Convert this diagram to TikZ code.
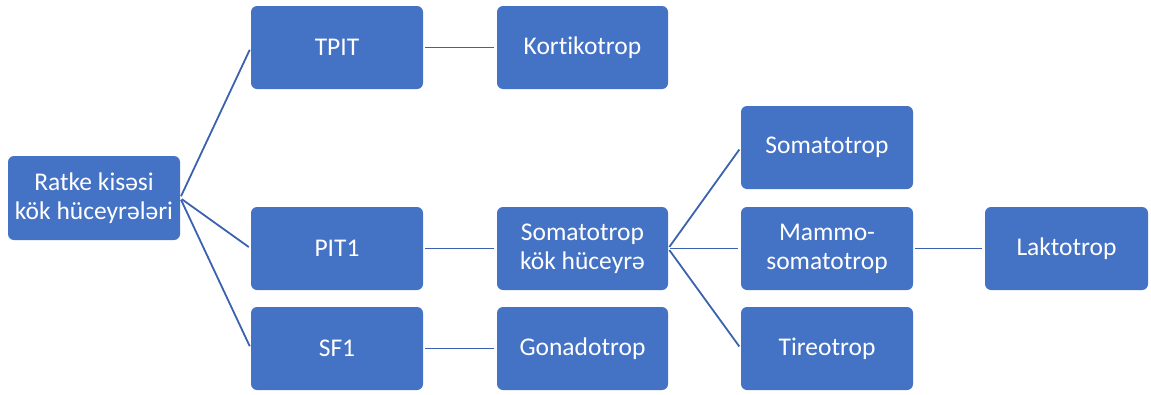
\documentclass[tikz,border=0pt]{standalone}
\usepackage{fontspec}
\setmainfont{Carlito}[Ligatures=NoCommon]
\usetikzlibrary{positioning}
\definecolor{cellblue}{HTML}{4472C4}
\definecolor{linkblue}{HTML}{3A62AE}

\begin{document}
\begin{tikzpicture}[x=1pt,y=-1pt,
    cell/.style={draw=none,fill=cellblue,rounded corners=6pt,
      minimum width=172pt,minimum height=83pt,inner sep=2pt,
      align=center,text=white,font=\fontsize{25.5}{29}\selectfont},
    link/.style={draw=linkblue,line width=1.8pt,shorten <=2pt,shorten >=2.5pt}]
  \useasboundingbox (0,0) rectangle (1151,394);

  % first column
  \node [cell,minimum height=84pt] (ratke) at (94,198) {Ratke kisəsi\\kök hüceyrələri};

  % transcription factors
  \node [cell] (tpit) at (337,47.5) {TPIT};
  \node [cell] (pit1) at (337,248.5) {PIT1};
  \node [cell] (sf1)  at (337,348.5) {SF1};

  % third column
  \node [cell,minimum width=171pt] (kortiko) at (582.5,47.5) {Kortikotrop};
  \node [cell,minimum width=171pt] (somkok)  at (582.5,248.5) {Somatotrop\\kök hüceyrə};
  \node [cell,minimum width=171pt] (gonado)  at (582.5,348.5) {Gonadotrop};

  % fourth column
  \node [cell] (somato) at (827,147.5) {Somatotrop};
  \node [cell] (mammo)  at (827,248.5) {Mammo-\\somatotrop};
  \node [cell] (tireo)  at (827,348.5) {Tireotrop};

  \node [cell,minimum width=163pt] (lakto) at (1066.5,248.5) {Laktotrop};

  \draw [link] (ratke.east) -- (tpit.west);
  \draw [link] (ratke.east) -- (pit1.west);
  \draw [link] (ratke.east) -- (sf1.west);

  \draw [link] (tpit) -- (kortiko);
  \draw [link] (pit1) -- (somkok);
  \draw [link] (sf1) -- (gonado);

  \draw [link] (somkok.east) -- (somato.west);
  \draw [link] (somkok.east) -- (mammo.west);
  \draw [link] (somkok.east) -- (tireo.west);

  \draw [link] (mammo) -- (lakto);
\end{tikzpicture}
\end{document}
